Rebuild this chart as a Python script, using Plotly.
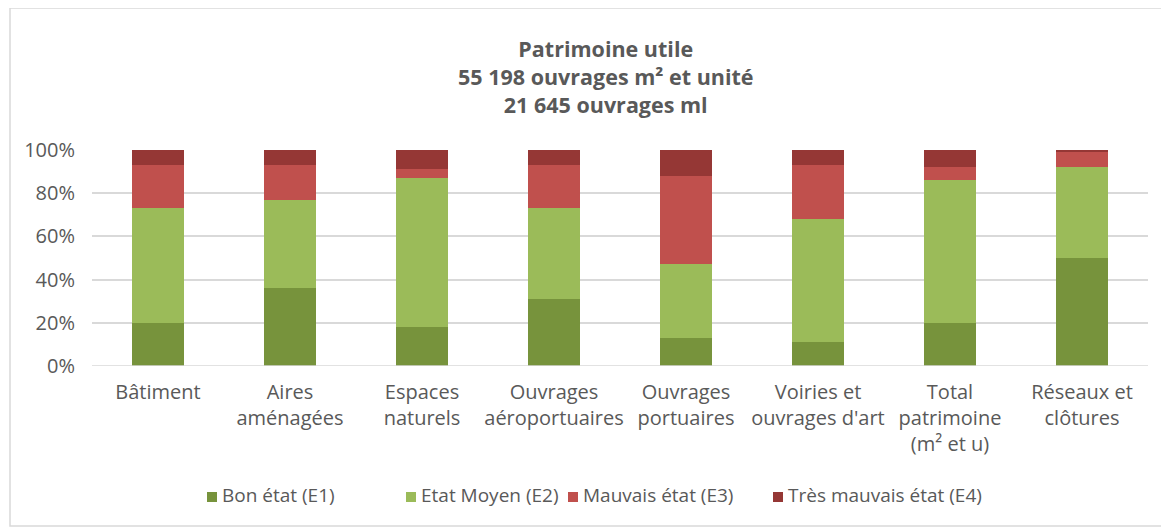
import plotly.graph_objects as go

categories = ["Bâtiment", "Aires<br>aménagées", "Espaces<br>naturels", "Ouvrages<br>aéroportuaires",
              "Ouvrages<br>portuaires", "Voiries et<br>ouvrages d'art", "Total<br>patrimoine<br>(m² et u)",
              "Réseaux et<br>clôtures"]
e1 = [20, 36, 18, 31, 13, 11, 20, 50]
e2 = [53, 41, 69, 42, 34, 57, 66, 42]
e3 = [20, 16, 4, 20, 41, 25, 6, 7]
e4 = [7, 7, 9, 7, 12, 7, 8, 1]
series_names = ["Bon état (E1)", "Etat Moyen (E2)", "Mauvais état (E3)", "Très mauvais état (E4)"]
colors = ["#77933C", "#9BBB59", "#C0504D", "#953735"]
title_lines = ["Patrimoine utile", "55 198 ouvrages m² et unité", "21 645 ouvrages ml"]

# page has an 8px body margin: figure drawn at (8, 8)
OFF = 8
W, H = 1169 - OFF, 527 - OFF
ml, mr, mt, mb = 92 - OFF, 21, 150 - OFF, 161
pw = W - ml - mr
ph = H - mt - mb
FONT = "Open Sans, Lato, sans-serif"
GREY = "#595959"

def px_x(x):  # screenshot x -> paper x
    return (x - OFF - ml) / pw

def px_y(y):  # screenshot y -> paper y
    return ((H - mb) - (y - OFF)) / ph

fig = go.Figure()
for name, vals, col in zip(series_names, [e1, e2, e3, e4], colors):
    fig.add_trace(go.Bar(x=categories, y=vals, name=name, marker_color=col,
                         marker_line_width=0, showlegend=False))

fig.update_layout(
    width=W, height=H, barmode="stack", bargap=0.6,
    margin=dict(l=ml, r=mr, t=mt, b=mb, autoexpand=False),
    paper_bgcolor="white", plot_bgcolor="white",
    font=dict(family=FONT, size=20, color=GREY),
    showlegend=False,
    xaxis=dict(showgrid=False, showline=False, ticks="", tickfont=dict(size=20, color=GREY),
               ticklabelstandoff=12, tickangle=0, automargin=False),
    yaxis=dict(range=[0, 100], dtick=20, ticksuffix="%", showgrid=True, gridcolor="#D9D9D9",
               gridwidth=1.5, zeroline=False, showline=False, tickfont=dict(size=20, color=GREY),
               ticklabelstandoff=16, automargin=False),
)
fig.add_shape(type="line", xref="paper", yref="y", x0=0, x1=1, y0=0, y1=0,
              line=dict(color="#D9D9D9", width=1.5))
# outer chart frame
fig.add_shape(type="rect", xref="paper", yref="paper",
              x0=px_x(10), x1=px_x(1168), y0=px_y(526), y1=px_y(8),
              line=dict(color="#D9D9D9", width=1.5), layer="below")
fig.add_annotation(text="<b>" + "<br>".join(title_lines) + "</b>", xref="paper", yref="paper",
                   x=px_x(606), y=px_y(76), xanchor="center", yanchor="middle",
                   showarrow=False, font=dict(size=21.5, color=GREY), align="center")
# legend entries
legend_x = [207, 406, 568, 773]
for name, col, lx in zip(series_names, colors, legend_x):
    fig.add_shape(type="rect", xref="paper", yref="paper",
                  x0=px_x(lx), x1=px_x(lx + 10), y0=px_y(502), y1=px_y(492),
                  fillcolor=col, line=dict(width=0))
    fig.add_annotation(text=name, xref="paper", yref="paper",
                       x=px_x(lx + 13), y=px_y(495), xanchor="left", yanchor="middle",
                       showarrow=False, font=dict(size=19, color=GREY))
fig.write_html("out.html")
